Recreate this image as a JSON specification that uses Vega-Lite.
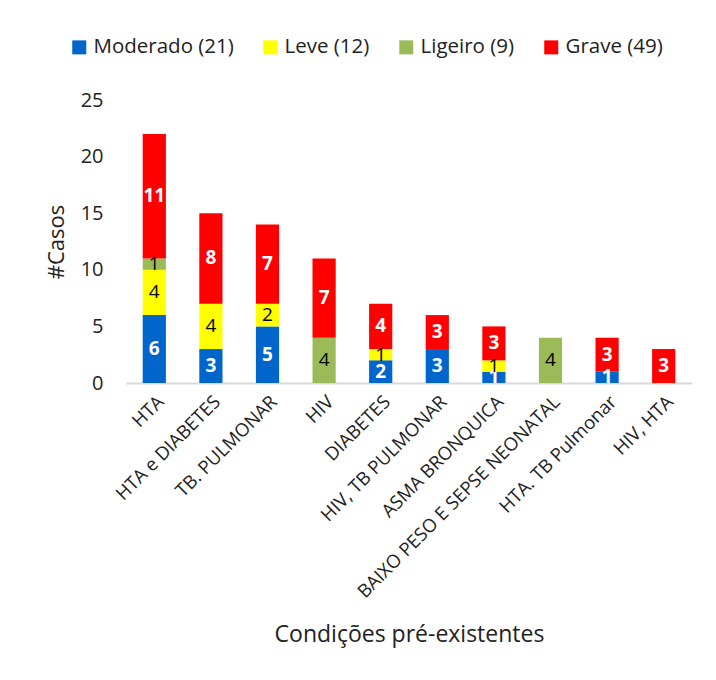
{
  "$schema": "https://vega.github.io/schema/vega-lite/v6.json",
  "width": 566,
  "height": 283,
  "autosize": {"type": "none"},
  "padding": {"left": 126, "top": 100, "right": 24, "bottom": 297},
  "background": "white",
  "config": {"view": {"stroke": null}, "font": "Open Sans"},
  "data": {
    "values": [
      {"cond": "HTA", "sev": "Moderado", "n": 6},
      {"cond": "HTA", "sev": "Leve", "n": 4},
      {"cond": "HTA", "sev": "Ligeiro", "n": 1},
      {"cond": "HTA", "sev": "Grave", "n": 11},
      {"cond": "HTA e DIABETES", "sev": "Moderado", "n": 3},
      {"cond": "HTA e DIABETES", "sev": "Leve", "n": 4},
      {"cond": "HTA e DIABETES", "sev": "Grave", "n": 8},
      {"cond": "TB. PULMONAR", "sev": "Moderado", "n": 5},
      {"cond": "TB. PULMONAR", "sev": "Leve", "n": 2},
      {"cond": "TB. PULMONAR", "sev": "Grave", "n": 7},
      {"cond": "HIV", "sev": "Ligeiro", "n": 4},
      {"cond": "HIV", "sev": "Grave", "n": 7},
      {"cond": "DIABETES", "sev": "Moderado", "n": 2},
      {"cond": "DIABETES", "sev": "Leve", "n": 1},
      {"cond": "DIABETES", "sev": "Grave", "n": 4},
      {"cond": "HIV, TB PULMONAR", "sev": "Moderado", "n": 3},
      {"cond": "HIV, TB PULMONAR", "sev": "Grave", "n": 3},
      {"cond": "ASMA BRONQUICA", "sev": "Moderado", "n": 1},
      {"cond": "ASMA BRONQUICA", "sev": "Leve", "n": 1},
      {"cond": "ASMA BRONQUICA", "sev": "Grave", "n": 3},
      {"cond": "BAIXO PESO E SEPSE NEONATAL", "sev": "Ligeiro", "n": 4},
      {"cond": "HTA. TB Pulmonar", "sev": "Moderado", "n": 1},
      {"cond": "HTA. TB Pulmonar", "sev": "Grave", "n": 3},
      {"cond": "HIV, HTA", "sev": "Grave", "n": 3}
    ]
  },
  "transform": [
    {"calculate": "indexof(['Moderado','Leve','Ligeiro','Grave'], datum.sev)", "as": "k"},
    {"stack": "n", "groupby": ["cond"], "sort": [{"field": "k", "order": "ascending"}], "as": ["y0", "y1"]},
    {"calculate": "(datum.y0 + datum.y1) / 2", "as": "ym"}
  ],
  "encoding": {
    "x": {
      "field": "cond",
      "type": "nominal",
      "sort": ["HTA", "HTA e DIABETES", "TB. PULMONAR", "HIV", "DIABETES", "HIV, TB PULMONAR", "ASMA BRONQUICA", "BAIXO PESO E SEPSE NEONATAL", "HTA. TB Pulmonar", "HIV, HTA"],
      "scale": {"paddingInner": 0.59, "paddingOuter": 0.295},
      "axis": {
        "title": "Condições pré-existentes",
        "titleFontSize": 23,
        "titleFontWeight": "normal",
        "titleColor": "#222222",
        "titlePadding": 40,
        "labelAngle": -45,
        "labelFontSize": 18.5,
        "labelColor": "#222222",
        "labelPadding": 9,
        "labelLimit": 500,
        "labelOverlap": false,
        "ticks": false,
        "domainColor": "#D9D9D9",
        "domainWidth": 2
      }
    }
  },
  "layer": [
    {
      "mark": {"type": "bar"},
      "encoding": {
        "y": {
          "field": "y0",
          "type": "quantitative",
          "scale": {"domain": [0, 25], "nice": false},
          "axis": {
            "title": "#Casos",
            "titleFontSize": 22,
            "titleFontWeight": "normal",
            "titleColor": "#222222",
            "titlePadding": 12,
            "labelFontSize": 20,
            "labelColor": "#222222",
            "labelPadding": 23,
            "values": [0, 5, 10, 15, 20, 25],
            "domain": false,
            "ticks": false,
            "grid": false
          }
        },
        "y2": {"field": "y1"},
        "color": {
          "field": "sev",
          "type": "nominal",
          "scale": {"domain": ["Moderado", "Leve", "Ligeiro", "Grave"], "range": ["#0066CC", "#FFFF00", "#9BBB59", "#FF0000"]},
          "legend": {
            "title": null,
            "orient": "none",
            "direction": "horizontal",
            "legendX": -57,
            "legendY": -63,
            "symbolType": "square",
            "symbolSize": 196,
            "symbolStrokeWidth": 0,
            "symbolOpacity": 1,
            "labelFontSize": 20.5,
            "labelColor": "#222222",
            "labelOffset": 4,
            "labelLimit": 300,
            "columnPadding": 26,
            "labelExpr": "{'Moderado':'Moderado (21)','Leve':'Leve (12)','Ligeiro':'Ligeiro (9)','Grave':'Grave (49)'}[datum.label]"
          }
        }
      }
    },
    {
      "transform": [{"filter": "datum.sev === 'Moderado' || datum.sev === 'Grave'"}],
      "mark": {"type": "text", "color": "white", "fontWeight": "bold", "fontSize": 19, "baseline": "middle"},
      "encoding": {
        "y": {"field": "ym", "type": "quantitative"},
        "text": {"field": "n", "type": "quantitative"}
      }
    },
    {
      "transform": [{"filter": "datum.sev === 'Leve' || datum.sev === 'Ligeiro'"}],
      "mark": {"type": "text", "color": "black", "fontSize": 19, "baseline": "middle"},
      "encoding": {
        "y": {"field": "ym", "type": "quantitative"},
        "text": {"field": "n", "type": "quantitative"}
      }
    }
  ]
}
